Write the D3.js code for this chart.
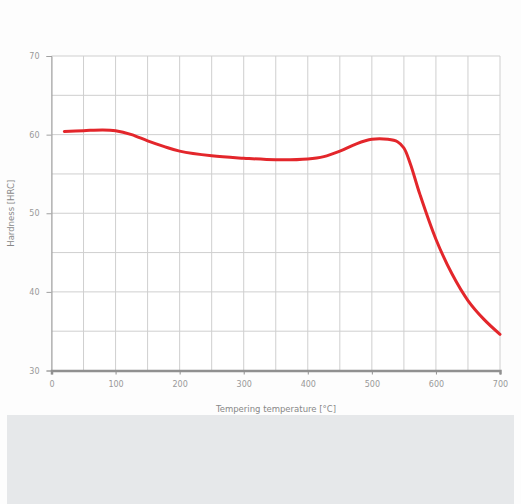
<!DOCTYPE html>
<html><head><meta charset="utf-8">
<script src="https://cdn.jsdelivr.net/npm/d3@7"></script>
<style>
html,body{margin:0;padding:0;background:#fdfdfd;}
svg{display:block;}
</style></head>
<body>
<svg id="c" width="521" height="504"></svg>
<script>
const temps = [20,50,80,100,125,150,175,200,250,300,350,400,425,450,475,500,525,540,550,560,575,600,625,650,675,700];
const hardness = [60.4,60.5,60.6,60.5,60.0,59.2,58.5,57.9,57.3,57.0,56.8,56.9,57.2,57.9,58.8,59.4,59.4,59.1,58.3,56.3,52.4,46.7,42.3,38.9,36.5,34.6];
const xTicks = [0,100,200,300,400,500,600,700];
const yTicks = [30,40,50,60,70];
const xGrid = d3.range(0,701,50);
const yGrid = d3.range(30,71,5);
const xTitle = "Tempering temperature [°C]";
const yTitle = "Hardness [HRC]";

const svg = d3.select("#c");
svg.append("rect").attr("x",7).attr("y",415).attr("width",507).attr("height",89).attr("fill","#e6e8ea");

const x = d3.scaleLinear().domain([0,700]).range([51.5,500]);
const y = d3.scaleLinear().domain([30,70]).range([370.5,56]);

const g = svg.append("g");
g.append("rect").attr("x",x(0)).attr("y",y(70)).attr("width",x(700)-x(0)).attr("height",y(30)-y(70)).attr("fill","#ffffff");

g.selectAll(".vg").data(xGrid).join("line")
  .attr("x1",d=>x(d)).attr("x2",d=>x(d)).attr("y1",y(70)).attr("y2",y(30))
  .attr("stroke","#cfcfcf").attr("stroke-width",1);
g.selectAll(".hg").data(yGrid).join("line")
  .attr("x1",x(0)).attr("x2",x(700)).attr("y1",d=>y(d)).attr("y2",d=>y(d))
  .attr("stroke","#cfcfcf").attr("stroke-width",1);

const font = "DejaVu Sans";
// left axis
const ya = g.append("g").attr("transform",`translate(${x(0)},0)`)
  .call(d3.axisLeft(y).tickValues(yTicks).tickSize(5).tickPadding(7));
ya.select(".domain").attr("stroke","#a0a0a0");
ya.selectAll(".tick line").attr("stroke","#a0a0a0");
ya.selectAll("text").attr("fill","#999").style("font-family",font).style("font-size","8px");

// bottom axis
const xa = g.append("g").attr("transform",`translate(0,${y(30)})`)
  .call(d3.axisBottom(x).tickValues(xTicks).tickSize(4).tickPadding(7));
xa.select(".domain").attr("stroke","#909090").attr("stroke-width",2.5);
xa.selectAll(".tick line").attr("stroke","#909090");
xa.selectAll("text").attr("fill","#999").style("font-family",font).style("font-size","8px");

const line = d3.line().x((d,i)=>x(temps[i])).y(d=>y(d)).curve(d3.curveCatmullRom.alpha(0.5));
g.append("path").datum(hardness).attr("d",line).attr("fill","none")
  .attr("stroke","#e3262b").attr("stroke-width",3).attr("stroke-linejoin","round").attr("stroke-linecap","round");

svg.append("text").attr("x",276).attr("y",412).attr("text-anchor","middle")
  .attr("fill","#888").style("font-family",font).style("font-size","8.5px").text(xTitle);
svg.append("text").attr("transform",`translate(14,${(y(70)+y(30))/2}) rotate(-90)`).attr("text-anchor","middle")
  .attr("fill","#888").style("font-family",font).style("font-size","8.5px").text(yTitle);
</script>
</body></html>
